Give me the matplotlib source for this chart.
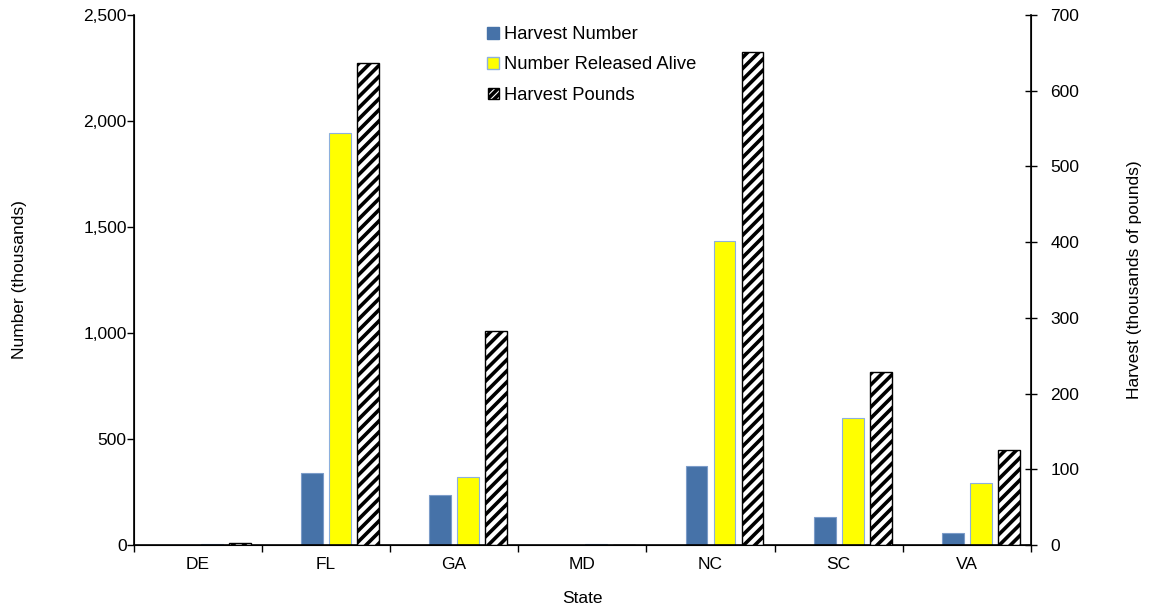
import numpy as np
import matplotlib.pyplot as plt
from matplotlib.lines import Line2D
from matplotlib.patches import Patch
from matplotlib.ticker import FuncFormatter

plt.rcParams['font.family'] = ['Liberation Sans', 'DejaVu Sans']
plt.rcParams['hatch.linewidth'] = 2.6

# 数据
states = ['DE', 'FL', 'GA', 'MD', 'NC', 'SC', 'VA']
harvest_number = [1, 338, 236, 0, 373, 131, 55]          # 千尾
released_alive = [4, 1943, 322, 5, 1434, 600, 294]       # 千尾
harvest_pounds = [2, 637, 283, 0, 651, 228, 126]         # 千磅

x = np.arange(len(states))
w = 0.17
fs = 12.5

fig = plt.figure(figsize=(11.5, 6.09), dpi=100)
ax = fig.add_axes([0.1162, 0.1051, 0.7803, 0.8703])
ax2 = ax.twinx()

ax.bar(x - 0.109, harvest_number, w, color='#4672A8', edgecolor='#7C9CC9', linewidth=0.8, zorder=2)
ax.bar(x + 0.109, released_alive, w, color='#FFFF00', edgecolor='#8DB0DC', linewidth=0.8, zorder=2)
ax2.bar(x + 0.327, harvest_pounds, w, color='white', edgecolor='black', hatch='///', linewidth=1.0, zorder=2)

ax.set_xlim(-0.5, 6.5)
ax.set_ylim(0, 2500)
ax2.set_ylim(0, 700)
ax.set_yticks(np.arange(0, 2501, 500))
ax2.set_yticks(np.arange(0, 701, 100))
ax.yaxis.set_major_formatter(FuncFormatter(lambda v, p: f'{int(v):,}'))

ax.set_xticks(x)
ax.set_xticklabels(states)
ax.set_xticks(np.arange(-0.5, 7, 1), minor=True)
ax.tick_params(axis='x', which='major', length=0, pad=9, labelsize=fs)
ax.tick_params(axis='x', which='minor', length=5, direction='out', width=1)
ax.tick_params(axis='y', length=5, direction='out', width=1, labelsize=fs, pad=0)
ax2.tick_params(axis='y', length=8, direction='inout', width=1, labelsize=fs, pad=10)

ax.spines['top'].set_visible(False)
ax2.spines['top'].set_visible(False)
for s in ['left', 'bottom']:
    ax.spines[s].set_linewidth(1.2)
ax2.spines['right'].set_linewidth(1.2)

ax.set_xlabel('State', fontsize=fs)
ax.xaxis.set_label_coords(0.5, -0.087)
ax.set_ylabel('Number (thousands)', fontsize=fs)
ax.yaxis.set_label_coords(-0.119, 0.5)
ax2.set_ylabel('Harvest (thousands of pounds)', fontsize=fs)
ax2.yaxis.set_label_coords(1.1073, 0.5)

handles = [
    Line2D([], [], ls='none', marker='s', markersize=8, markerfacecolor='#4672A8', markeredgecolor='#4672A8'),
    Line2D([], [], ls='none', marker='s', markersize=8, markerfacecolor='#FFFF00', markeredgecolor='#8DB0DC'),
    Patch(facecolor='white', edgecolor='black', hatch='/////'),
]
ax2.legend(handles, ['Harvest Number', 'Number Released Alive', 'Harvest Pounds'],
           loc='upper left', bbox_to_anchor=(0.377, 1.01), frameon=False, fontsize=13.2,
           handlelength=0.55, handleheight=0.55, handletextpad=0.3, labelspacing=0.72)

fig.savefig('out.png', dpi=100)
